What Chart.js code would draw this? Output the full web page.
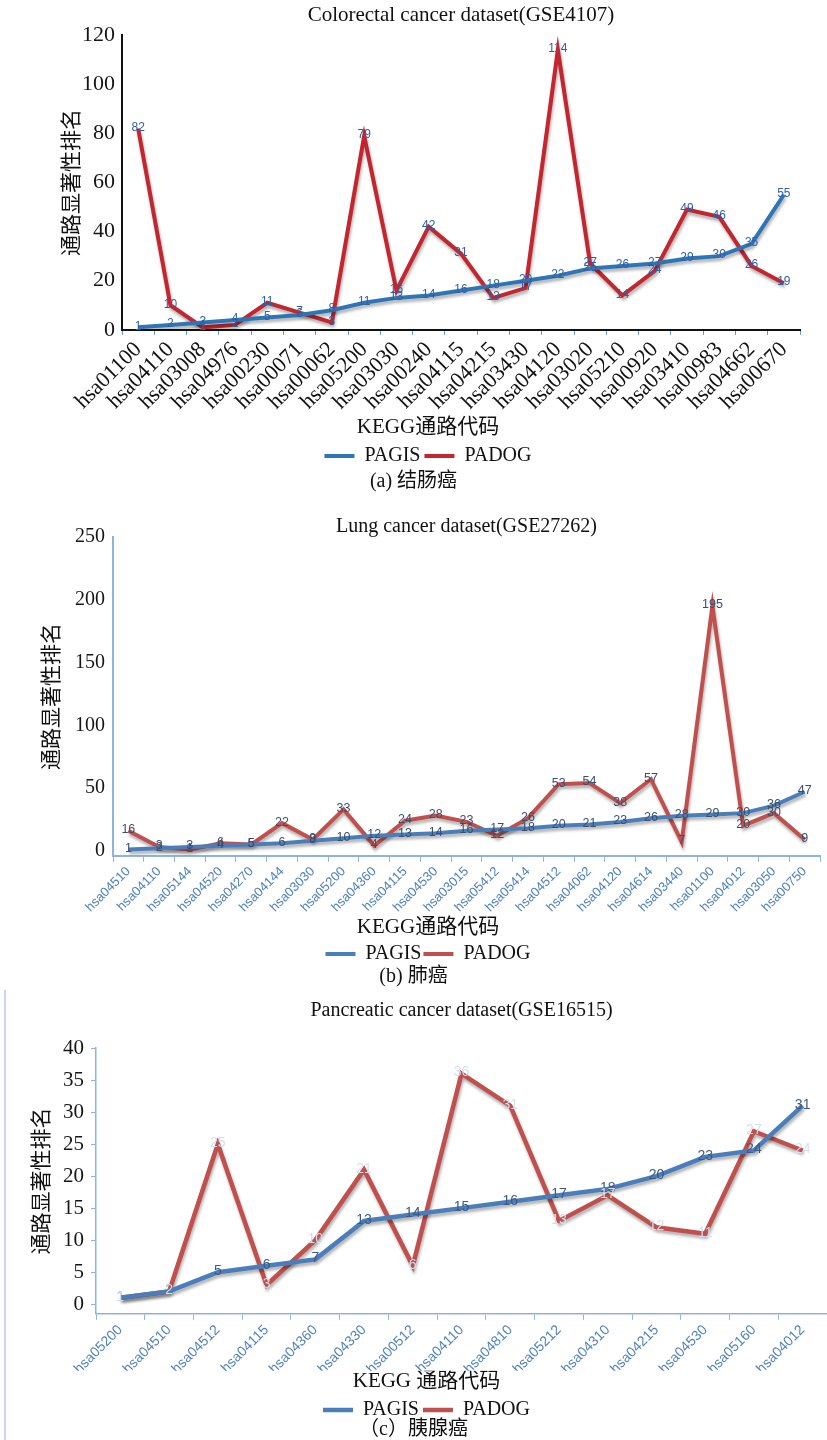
<!DOCTYPE html>
<html>
<head>
<meta charset="utf-8">
<script src="https://cdn.jsdelivr.net/npm/chart.js@4.4.1/dist/chart.umd.min.js"></script>
<style>
  body { margin: 0; background: #fff; width: 827px; height: 1440px; position: relative; overflow: hidden; }
  .box { position: absolute; left: 0; width: 827px; }
  .cap { position: absolute; left: 0; width: 827px; text-align: center; font-family: "Liberation Serif", "Noto Sans CJK SC", serif; font-size: 20px; line-height: 24px; color: #111; }
  .edge { position: absolute; left: 4px; top: 990px; height: 450px; border-left: 2px solid #c6d9f0; }
</style>
</head>
<body>
<div class="box" style="top:0;height:476px"><canvas id="colorectal"></canvas></div>
<div class="cap" style="top:468px">(a) 结肠癌</div>
<div class="box" style="top:500px;height:474px"><canvas id="lung"></canvas></div>
<div class="cap" style="top:963px">(b) 肺癌</div>
<div class="edge"></div>
<div class="box" style="top:990px;height:440px"><canvas id="pancreas"></canvas></div>
<div class="cap" style="top:1416px">（c）胰腺癌</div>
<script>
// (a) colorectal cancer, GSE4107
const colorectalPathways = ["hsa01100", "hsa04110", "hsa03008", "hsa04976", "hsa00230", "hsa00071", "hsa00062",
  "hsa05200", "hsa03030", "hsa00240", "hsa04115", "hsa04215", "hsa03430", "hsa04120", "hsa03020", "hsa05210",
  "hsa00920", "hsa03410", "hsa00983", "hsa04662", "hsa00670"];
const colorectalPagis = [1, 2, 3, 4, 5, 6, 8, 11, 13, 14, 16, 18, 20, 22, 25, 26, 27, 29, 30, 35, 55];
const colorectalPadog = [82, 10, 1, 2, 11, 7, 3, 79, 16, 42, 31, 13, 17, 114, 27, 14, 24, 49, 46, 26, 19];

// (b) lung cancer, GSE27262
const lungPathways = ["hsa04510", "hsa04110", "hsa05144", "hsa04520", "hsa04270", "hsa04144", "hsa03030", "hsa05200",
  "hsa04360", "hsa04115", "hsa04530", "hsa03015", "hsa05412", "hsa05414", "hsa04512", "hsa04062", "hsa04120",
  "hsa04614", "hsa03440", "hsa01100", "hsa04012", "hsa03050", "hsa00750"];
const lungPagis = [1, 2, 3, 4, 5, 6, 8, 10, 12, 13, 14, 16, 17, 18, 20, 21, 23, 26, 28, 29, 30, 36, 47];
const lungPadog = [16, 3, 1, 6, 5, 22, 9, 33, 4, 24, 28, 23, 12, 26, 53, 54, 38, 57, 7, 195, 20, 30, 9];

// (c) pancreatic cancer, GSE16515
const pancreasPathways = ["hsa05200", "hsa04510", "hsa04512", "hsa04115", "hsa04360", "hsa04330", "hsa00512",
  "hsa04110", "hsa04810", "hsa05212", "hsa04310", "hsa04215", "hsa04530", "hsa05160", "hsa04012"];
const pancreasPagis = [1, 2, 5, 6, 7, 13, 14, 15, 16, 17, 18, 20, 23, 24, 31];
const pancreasPadog = [1, 2, 25, 3, 10, 21, 6, 36, 31, 13, 17, 12, 11, 27, 24];

const serif = '"Liberation Serif", "Noto Sans CJK SC", serif';
const sans = '"Liberation Sans", Arial, sans-serif';

// soft drop shadow under each line, like the office chart
const lineShadow = {
  id: "lineShadow",
  beforeDatasetDraw(chart) {
    const ctx = chart.ctx;
    ctx.save();
    ctx.shadowColor = "rgba(0,0,0,0.3)";
    ctx.shadowBlur = 3;
    ctx.shadowOffsetX = 1;
    ctx.shadowOffsetY = 3;
  },
  afterDatasetDraw(chart) {
    chart.ctx.restore();
  }
};

// value printed on every point
const pointLabels = {
  id: "pointLabels",
  afterDatasetsDraw(chart, args, opts) {
    const ctx = chart.ctx;
    ctx.save();
    ctx.font = opts.font;
    ctx.textAlign = "center";
    ctx.textBaseline = "middle";
    chart.data.datasets.forEach((ds, i) => {
      ctx.fillStyle = opts.colors[i];
      chart.getDatasetMeta(i).data.forEach((pt, j) => {
        ctx.fillText(String(ds.data[j]), pt.x, pt.y - 1);
      });
    });
    ctx.restore();
  }
};

function buildChart(id, p) {
  return new Chart(document.getElementById(id), {
    type: "line",
    data: {
      labels: p.labels,
      datasets: [
        { label: "PAGIS", data: p.pagis, borderColor: p.blue, backgroundColor: p.blue,
          borderWidth: p.lineWidth, pointRadius: 0, tension: 0 },
        { label: "PADOG", data: p.padog, borderColor: p.red, backgroundColor: p.red,
          borderWidth: p.lineWidth, pointRadius: 0, tension: 0 }
      ]
    },
    plugins: [lineShadow, pointLabels],
    options: {
      responsive: true,
      maintainAspectRatio: false,
      animation: false,
      layout: { padding: { left: p.padLeft, right: p.padRight, top: 0, bottom: 0 } },
      plugins: {
        title: {
          display: true, text: p.title, fullSize: false, color: "#111",
          font: { family: serif, size: p.titleSize, weight: "normal", lineHeight: p.titleLH },
          padding: p.titlePad
        },
        legend: {
          position: "bottom",
          title: {
            display: true, text: p.xTitle, color: "#111",
            font: { family: serif, size: 21, lineHeight: 1.2 },
            padding: p.xTitlePad
          },
          labels: {
            usePointStyle: true, pointStyle: "line", pointStyleWidth: 30,
            color: "#111", padding: p.legendPad,
            font: { family: serif, size: 20 }
          }
        },
        tooltip: { enabled: false },
        pointLabels: { font: p.valueFont, colors: p.valueColors }
      },
      scales: {
        x: {
          offset: true,
          grid: { offset: true, drawOnChartArea: false, drawTicks: true, tickLength: p.xTickLen, color: p.xTickColor },
          border: { display: true, color: p.axisColor, width: p.axisWidth },
          ticks: {
            autoSkip: false, minRotation: 45, maxRotation: 45, padding: 2,
            color: p.xLabelColor, font: { family: p.xLabelFamily, size: p.xLabelSize }
          },
          afterFit: s => { s.height = p.xHeight; s.paddingLeft = 0; s.paddingRight = 0; }
        },
        y: {
          min: p.yMin, max: p.yMax,
          grid: { display: p.yTickMarks, drawOnChartArea: false, drawTicks: p.yTickMarks, tickLength: 5, color: p.axisColor },
          border: { display: true, color: p.axisColor, width: p.axisWidth },
          ticks: { stepSize: p.yStep, padding: p.yLabelPad, color: "#161616", font: { family: serif, size: p.yLabelSize } },
          afterBuildTicks: s => {
            const t = [];
            for (let v = 0; v <= p.yMax; v += p.yStep) t.push({ value: v });
            s.ticks = t;
          },
          title: {
            display: true, text: "通路显著性排名", color: "#111",
            font: { family: serif, size: 21 }, padding: { top: 4, bottom: 4 }
          },
          afterFit: s => { s.width = p.yWidth; }
        }
      }
    }
  });
}

buildChart("colorectal", {
  labels: colorectalPathways, pagis: colorectalPagis, padog: colorectalPadog,
  title: "Colorectal cancer dataset(GSE4107)", titleSize: 21, titleLH: 1.2, titlePad: { top: 3, bottom: 7 },
  xTitle: "KEGG通路代码", xTitlePad: { top: 4, bottom: 0 }, legendPad: 4,
  blue: "#2e75b6", red: "#c3262e", lineWidth: 4,
  padLeft: 56, padRight: 27, yWidth: 66,
  yMin: 0, yMax: 120, yStep: 20, yLabelSize: 22, yLabelPad: 7, yTickMarks: false,
  axisColor: "#111", axisWidth: 2,
  xTickLen: 5, xTickColor: "#5b9bd5", xLabelColor: "#111", xLabelFamily: serif, xLabelSize: 22, xHeight: 83,
  valueFont: "12px " + sans, valueColors: ["#2f5fa6", "#2f5fa6"]
});

buildChart("lung", {
  labels: lungPathways, pagis: lungPagis, padog: lungPadog,
  title: "Lung cancer dataset(GSE27262)", titleSize: 20, titleLH: 1.0, titlePad: { top: 17, bottom: 0 },
  xTitle: "KEGG通路代码", xTitlePad: { top: 2, bottom: 0 }, legendPad: 2,
  blue: "#4a7ebb", red: "#c0504d", lineWidth: 4,
  padLeft: 36, padRight: 7, yWidth: 77,
  yMin: -4, yMax: 250, yStep: 50, yLabelSize: 20, yLabelPad: 8, yTickMarks: false,
  axisColor: "#8db3e2", axisWidth: 2,
  xTickLen: 6, xTickColor: "#8db3e2", xLabelColor: "#4f81bd", xLabelFamily: sans, xLabelSize: 13, xHeight: 59,
  valueFont: "12.5px " + sans, valueColors: ["#3a4f6e", "#3a4f6e"]
});

buildChart("pancreas", {
  labels: pancreasPathways, pagis: pancreasPagis, padog: pancreasPadog,
  title: "Pancreatic cancer dataset(GSE16515)", titleSize: 20, titleLH: 1.2, titlePad: { top: 9, bottom: 25 },
  xTitle: "KEGG 通路代码", xTitlePad: { top: 0, bottom: 0 }, legendPad: 4,
  blue: "#4a7ebb", red: "#c0504d", lineWidth: 4.5,
  padLeft: 26, padRight: 0, yWidth: 70,
  yMin: -1.5, yMax: 40, yStep: 5, yLabelSize: 21, yLabelPad: 7, yTickMarks: true,
  axisColor: "#8db3e2", axisWidth: 1.5,
  xTickLen: 6, xTickColor: "#8db3e2", xLabelColor: "#4f81bd", xLabelFamily: sans, xLabelSize: 14, xHeight: 57,
  valueFont: "14px " + sans, valueColors: ["#3d5a80", "#d3def0"]
});
</script>
</body>
</html>
